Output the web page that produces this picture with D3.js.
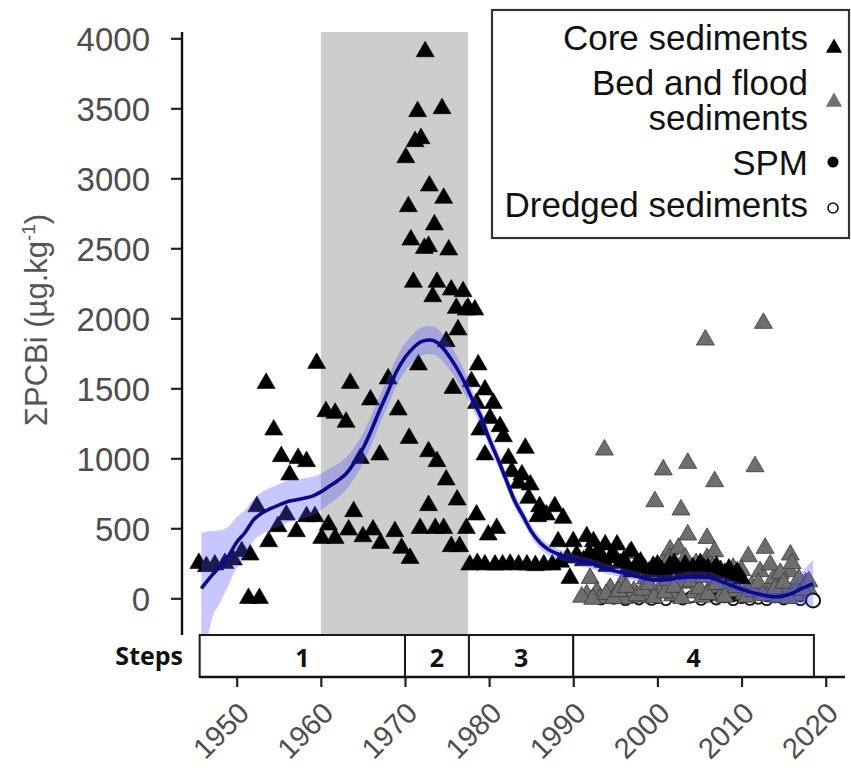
<!DOCTYPE html>
<html><head><meta charset="utf-8">
<script src="https://cdn.jsdelivr.net/npm/d3@7"></script>
<style>body{margin:0;background:#fff}svg{display:block}</style>
</head><body>
<svg id="c" width="851" height="770"></svg>
<script>
// ---------- data ----------
const yTicks = [0,500,1000,1500,2000,2500,3000,3500,4000];
const xTicks = [1950,1960,1970,1980,1990,2000,2010,2020];
const steps = [{label:"1",from:1945.6,to:1970},{label:"2",from:1970,to:1977.6},{label:"3",from:1977.6,to:1990},{label:"4",from:1990,to:2018.6}];
const shadePeriod = [1960, 1977.5];
const legendLabels = [["Core sediments"],["Bed and flood","sediments"],["SPM"],["Dredged sediments"]];

const coreSediments = [
[1945.5,261],[1946.4,238],[1947.4,250],[1948.6,261],[1949.6,286],[1950.6,345],[1951.6,321],[1951.4,11],[1952.7,11],[1952.4,666],[1953.5,1547],[1953.8,416],[1954.4,1214],[1954.9,524],[1955.3,1024],[1955.9,607],[1956.3,893],[1957.1,488],[1957.3,1011],[1958.3,988],[1958.3,595],[1959.3,595],[1959.5,1690],
[1960.1,440],[1960.6,1345],[1960.9,536],[1961.7,1333],[1961.7,440],[1963.0,1269],[1963.3,500],[1963.5,1547],[1963.9,631],[1964.7,1011],[1965.0,452],[1965.9,1429],[1966.2,500],[1967.0,1036],[1967.1,404],[1968.0,1579],[1968.8,488],[1969.2,1357],[1969.6,369],[1970.1,3159],[1970.4,2809],[1970.5,1154],[1970.6,297],[1970.7,2571],[1971.0,2269],[1971.2,3274],[1971.5,3488],[1971.6,1679],[1971.8,511],[1971.9,3295],[1972.3,2511],[1972.4,3916],[1972.8,2524],[1972.8,1059],[1972.8,674],[1972.9,2957],[1973.3,2166],[1973.5,2679],[1973.6,511],[1973.8,2269],[1973.8,988],[1974.4,3509],[1974.6,2869],[1974.6,511],[1974.9,1845],[1974.9,857],[1975.2,2500],[1975.5,2214],[1975.5,381],[1975.7,1511],[1976.1,2083],[1976.2,714],[1976.3,1929],[1976.5,381],[1976.9,2202],[1977.3,2071],[1977.3,511],[1977.5,2083],
[1977.7,250],[1977.9,1559],[1978.3,2071],[1978.5,1404],[1978.5,607],[1978.7,1679],[1978.9,1214],[1978.6,261],[1979.5,250],[1979.5,1500],[1979.5,1036],[1979.9,464],[1980.1,1297],[1980.5,1404],[1980.9,511],[1980.7,250],[1981.3,1238],[1981.7,1166],[1981.6,250],[1982.3,1011],[1982.7,916],[1982.5,255],[1983.5,833],[1983.9,893],[1983.5,250],[1984.3,1083],[1984.7,726],[1984.9,821],[1984.5,250],[1985.5,245],[1985.8,595],[1986.0,666],[1986.5,250],[1986.8,607],[1987.8,666],[1987.5,250],[1988.2,416],[1988.8,583],[1988.5,270],[1989.6,154],[1989.3,300],
[1990.0,416],[1990.4,320],[1991.6,452],[1991.2,280],[1991.9,330],[1992.4,416],[1992.5,300],[1993.0,350],[1993.8,393],[1993.5,270],[1994.0,240],[1994.5,310],[1995.0,300],[1995.2,393],[1995.6,260],[1996.0,280],[1996.5,230],[1996.9,345],[1997.0,200],[1997.5,250],[1998.0,270],[1998.5,220],[1999.0,200],[1999.5,240],[2000.0,250],[2000.5,210],[2001.0,190],[2001.5,245],[2002.0,260],[2002.4,220],[2003.0,200],[2003.3,250],[2004.2,230],[2004.7,190],[2005.1,260],[2005.6,220],[2006.0,225],[2006.5,190],[2007.0,240],[2007.5,210],[2008.0,190],[2008.5,220],[2009.0,170],[2009.5,200],[2010.0,150]
];

const bedFloodSediments = [
[1991.6,36],[1992.0,154],[1992.8,59],[1993.2,11],[1993.7,1071],[1994.4,83],[1995.0,30],[1995.8,120],[1996.0,10],[1996.7,333],[1997.2,60],[1998.0,20],[1998.6,150],[1999.2,40],[1999.7,702],[2000.3,80],[2000.7,929],[2000.7,274],[2001.5,357],[2001.5,297],[2001.8,30],[2002.5,369],[2002.8,643],[2003.0,120],[2003.6,976],[2003.6,464],[2003.9,230],[2004.4,50],[2004.8,180],[2005.3,20],[2005.7,1857],[2005.9,440],[2005.9,297],[2006.3,90],[2006.8,845],[2006.8,345],[2007.3,200],[2007.6,30],[2008.2,110],[2008.8,60],[2009.0,226],[2009.8,154],[2010.3,40],[2010.8,309],[2011.2,100],[2011.6,952],[2012.2,202],[2012.6,1976],[2012.8,369],[2013.2,60],[2013.8,154],[2014.3,20],[2014.8,110],[2015.3,50],[2015.8,321],[2015.8,202],[2016.4,80],[2017.0,30],[2017.6,120],[2018.2,50],
[1991.0,20],[1992.3,5],[1993.9,40],[1994.8,10],[1995.4,60],[1996.3,90],[1997.6,30],[1998.3,70],[1999.0,110],[1999.6,15],[2000.0,180],[2000.9,50],[2001.2,140],[2002.0,90],[2002.2,240],[2002.9,10],[2003.3,300],[2004.0,130],[2004.6,260],[2005.0,80],[2005.5,160],[2006.0,40],[2006.6,230],[2007.0,110],[2008.0,20],[2008.5,180],[2009.4,90],[2010.0,210],[2010.6,20],[2011.5,60],[2012.0,120],[2012.5,30],[2013.4,250],[2014.0,80],[2014.6,190],[2015.0,120],[2015.6,10],[2016.0,260],[2016.8,150],[2017.3,70],[2018.0,130]
];

const spm = [[2006.5,10],[2007.2,20],[2007.8,5],[2008.3,15],[2009.0,0],[2009.6,10],[2010.2,25],[2011.0,5],[2012.0,15],[2013.0,0],[2014.0,10],[2015.0,5],[2016.0,15],[2017.0,0],[2018.0,10]];

const dredged = [[1992.5,20],[1993.3,-5],[1994.0,30],[1994.8,0],[1995.5,15],[1996.2,-10],[1997.0,10],[1997.8,-5],[1998.5,25],[1999.3,-8],[2000.0,5],[2001.0,-10],[2002.0,15],[2003.0,-5],[2004.0,10],[2005.2,-8],[2006.0,20],[2007.0,-5],[2008.0,10],[2009.0,-10],[2010.0,5],[2011.0,-8],[2012.0,0],[2013.0,-10],[2014.0,10],[2015.0,-5],[2016.0,5],[2017.0,-10],[2018.5,-15]];

const smoothYear = [1945.8,1947,1948,1949,1950,1951,1952,1953,1954,1955,1956,1957,1958,1959,1960,1961,1962,1963,1964,1965,1966,1967,1968,1969,1970,1971,1972,1973,1974,1975,1976,1977,1978,1979,1980,1981,1982,1983,1984,1985,1986,1987,1988,1990,1992,1994,1996,1998,2000,2002,2004,2006,2008,2010,2012,2014,2016,2017,2018.5];
const smoothFit  = [70,160,226,300,400,470,560,610,640,665,690,702,715,730,760,800,840,890,970,1070,1200,1345,1480,1620,1720,1790,1835,1845,1820,1750,1660,1550,1420,1300,1140,1000,850,700,590,480,400,350,320,280,250,210,180,150,130,140,155,150,110,65,30,10,35,65,105];
const smoothLow  = [-600,-160,-34,90,220,310,410,460,490,515,540,555,572,592,628,675,720,775,860,962,1095,1243,1380,1520,1620,1690,1735,1745,1720,1655,1572,1470,1350,1235,1080,945,800,652,545,437,358,310,282,245,215,175,145,115,95,105,118,110,70,25,-15,-35,-35,-45,-65];
const smoothHigh = [470,480,486,510,580,630,710,760,790,815,840,850,858,868,892,925,960,1005,1080,1178,1305,1447,1580,1720,1820,1890,1935,1945,1920,1845,1750,1630,1490,1365,1200,1055,900,748,635,523,442,390,358,315,285,245,215,185,165,175,192,190,150,105,75,55,105,175,275];

// ---------- scales ----------
const svg = d3.select("#c");
const x = d3.scaleLinear().domain([1950,2020]).range([236.7,825.7]);
const y = d3.scaleLinear().domain([0,4000]).range([598.3,38.3]);
const panelTop = 32, panelBottom = 635, axisX = 182;
const fontMain = "'Liberation Sans', Arial, sans-serif";
const fontSteps = "'Open Sans', 'DejaVu Sans', sans-serif";

svg.append("defs").append("clipPath").attr("id","clip")
  .append("rect").attr("x",183).attr("y",panelTop).attr("width",665).attr("height",panelBottom-panelTop);

// shaded period
svg.append("rect").attr("x",x(shadePeriod[0])).attr("y",panelTop)
  .attr("width",x(shadePeriod[1])-x(shadePeriod[0])).attr("height",panelBottom-panelTop)
  .attr("fill","#cdcdcd");

const plot = svg.append("g").attr("clip-path","url(#clip)");
const tri = d3.symbol().type(d3.symbolTriangle).size(140);

plot.append("g").selectAll("circle").data(dredged).join("circle")
  .attr("cx",d=>x(d[0])).attr("cy",d=>y(d[1])).attr("r",5.5)
  .attr("fill","#fff").attr("stroke","#111").attr("stroke-width",1.8);
plot.append("g").selectAll("circle").data(spm).join("circle")
  .attr("cx",d=>x(d[0])).attr("cy",d=>y(d[1])).attr("r",4).attr("fill","#111");
plot.append("g").selectAll("path").data(bedFloodSediments).join("path")
  .attr("transform",d=>`translate(${x(d[0])},${y(d[1])+1.5})`).attr("d",tri)
  .attr("fill","#6e6e6e").attr("stroke","#3a3a3a").attr("stroke-width",0.8);
plot.append("g").selectAll("path").data(coreSediments).join("path")
  .attr("transform",d=>`translate(${x(d[0])},${y(d[1])+1.5})`).attr("d",tri)
  .attr("fill","#000").attr("stroke","#000").attr("stroke-width",0.6);
// last dredged sample sits on top
const lastD = dredged[dredged.length-1];
plot.append("circle").attr("cx",x(lastD[0])).attr("cy",y(lastD[1])).attr("r",7)
  .attr("fill","#fff").attr("stroke","#111").attr("stroke-width",2);

// smooth ribbon + line
const sm = smoothYear.map((yr,i)=>({yr,fit:smoothFit[i],lo:smoothLow[i],hi:smoothHigh[i]}));
plot.append("path").datum(sm)
  .attr("d",d3.area().curve(d3.curveMonotoneX).x(d=>x(d.yr)).y0(d=>y(d.lo)).y1(d=>y(d.hi)))
  .attr("fill","#5050ff").attr("fill-opacity",0.32);
plot.append("path").datum(sm)
  .attr("d",d3.line().curve(d3.curveMonotoneX).x(d=>x(d.yr)).y(d=>y(d.fit)))
  .attr("fill","none").attr("stroke","#0b0b8a").attr("stroke-width",3.6);

// y axis
const yAxis = svg.append("g").attr("transform",`translate(${axisX},0)`)
  .call(d3.axisLeft(y).tickValues(yTicks).tickSize(11).tickPadding(21).tickFormat(d3.format("d")));
yAxis.select(".domain").remove();
yAxis.selectAll(".tick line").attr("stroke","#222").attr("stroke-width",2.2);
yAxis.selectAll(".tick text").attr("font-family",fontMain).attr("font-size",33).attr("fill","#4d4d4d").attr("dy","0.36em");
svg.append("line").attr("x1",axisX).attr("x2",axisX).attr("y1",panelTop).attr("y2",panelBottom)
  .attr("stroke","#111").attr("stroke-width",2.4);

// axis title
const yt = svg.append("text").attr("transform","translate(47,320) rotate(-90)")
  .attr("text-anchor","middle").attr("font-family",fontMain).attr("font-size",31).attr("fill","#555");
yt.append("tspan").text("ΣPCBi (µg.kg");
yt.append("tspan").attr("font-size",19).attr("dy",-12).text("-1");
yt.append("tspan").attr("dy",12).text(")");

// steps bar
const stepTop = 635, stepBottom = 677;
const sg = svg.append("g");
sg.selectAll("rect").data(steps).join("rect")
  .attr("x",d=>x(d.from)).attr("y",stepTop).attr("width",d=>x(d.to)-x(d.from)).attr("height",stepBottom-stepTop)
  .attr("fill","#fff").attr("stroke","#1a1a1a").attr("stroke-width",2);
sg.selectAll("text").data(steps).join("text")
  .attr("x",d=>(x(d.from)+x(d.to))/2).attr("y",667).attr("text-anchor","middle")
  .attr("font-family",fontSteps).attr("font-weight","bold").attr("font-size",25).attr("fill","#111")
  .text(d=>d.label);
svg.append("text").attr("x",183).attr("y",665).attr("text-anchor","end")
  .attr("font-family",fontSteps).attr("font-weight","bold").attr("font-size",25).attr("fill","#111").text("Steps");

// x axis
const xAxis = svg.append("g").attr("transform",`translate(0,${stepBottom})`)
  .call(d3.axisBottom(x).tickValues(xTicks).tickSize(10).tickFormat(d3.format("d")));
xAxis.select(".domain").remove();
xAxis.selectAll(".tick line").attr("stroke","#222").attr("stroke-width",2.2);
xAxis.selectAll(".tick text")
  .attr("font-family",fontMain).attr("font-size",29).attr("fill","#4d4d4d")
  .attr("text-anchor","end").attr("x",0).attr("y",0).attr("dy","0.72em")
  .attr("transform","translate(-1,23) rotate(-45)");
svg.append("line").attr("x1",x(steps[0].from)).attr("x2",845).attr("y1",stepBottom).attr("y2",stepBottom)
  .attr("stroke","#111").attr("stroke-width",2.4);

// legend
const lg = svg.append("g");
lg.append("rect").attr("x",492).attr("y",10).attr("width",357).attr("height",228)
  .attr("fill","#fff").attr("stroke","#333").attr("stroke-width",2.2);
const lgBase = [50,95,175,217];
legendLabels.forEach((lines,i)=>{
  const t = lg.append("text").attr("text-anchor","end")
    .attr("font-family",fontMain).attr("font-size",35).attr("fill","#111");
  lines.forEach((s,j)=>{
    t.append("tspan").attr("x",808).attr("y",lgBase[i]+j*35).text(s);
  });
});
const ltri = d3.symbol().type(d3.symbolTriangle).size(115);
lg.append("path").attr("d",ltri).attr("transform","translate(834,48)").attr("fill","#000");
lg.append("path").attr("d",ltri).attr("transform","translate(834,102)").attr("fill","#707070");
lg.append("circle").attr("cx",833).attr("cy",162).attr("r",5.5).attr("fill","#000");
lg.append("circle").attr("cx",833).attr("cy",208).attr("r",5).attr("fill","#fff").attr("stroke","#111").attr("stroke-width",1.6);
</script>
</body></html>
